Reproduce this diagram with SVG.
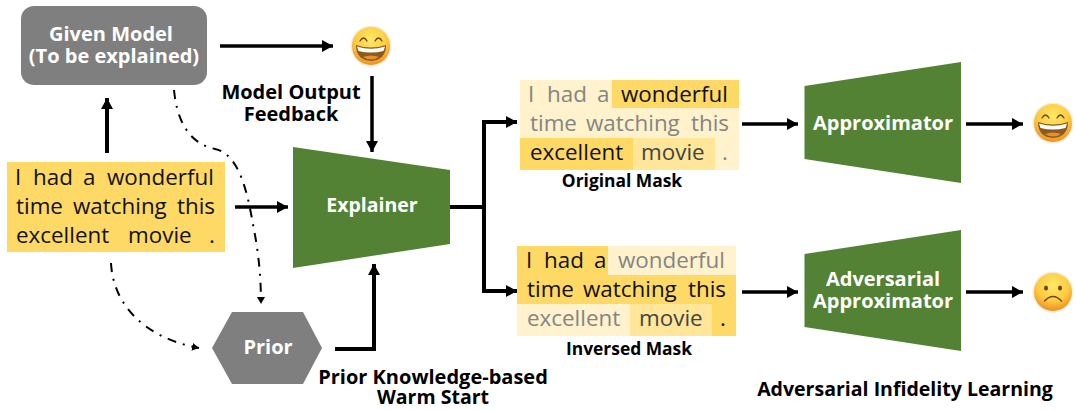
<svg xmlns="http://www.w3.org/2000/svg" width="1076" height="410" viewBox="0 0 1076 410">
<style>
text{font-family:"Open Sans","Noto Sans","DejaVu Sans",sans-serif}
.b{font-weight:700;fill:#000;font-size:20px;text-anchor:middle}
.w{font-weight:700;fill:#fff;font-size:20px;text-anchor:middle}
.s{font-weight:700;fill:#000;font-size:17.4px;text-anchor:middle}
.t{font-size:22.4px;fill:#111}
.g{font-size:22.4px;fill:#858585}
.d{font-size:22.4px;fill:#444}
.y{fill:#ffd966}.p{fill:#fff2cc}.m{fill:#ffe699}
.gr{fill:#548235}
.c{fill:none;stroke:#000;stroke-width:3.5}
.h{fill:none;stroke:#000;stroke-width:4}
.dd{fill:none;stroke:#000;stroke-width:2;stroke-dasharray:9 7 2 7}
.e{fill:none;stroke:#6b4214;stroke-width:1.3;stroke-linecap:round}
</style>
<defs>
<marker id="a" markerUnits="userSpaceOnUse" markerWidth="12" markerHeight="14" refX="11" refY="6" orient="auto"><path d="M0 0L11 6L0 12Z"/></marker>
<marker id="ds" markerUnits="userSpaceOnUse" markerWidth="8" markerHeight="10" refX="7" refY="4" orient="auto"><path d="M0 0L7 4L0 8Z"/></marker>
<radialGradient id="f" cx="50%" cy="32%" r="70%"><stop offset="0" stop-color="#ffe868"/><stop offset=".6" stop-color="#fdcb3f"/><stop offset="1" stop-color="#ee8a1c"/></radialGradient>
<g id="smile"><circle r="20.500" fill="#f3ece2"/><circle r="19" fill="url(#f)"/><path class="e" d="M-11-5Q-7.500-11-4-5M4-5Q7.500-11 11-5"/><path d="M-15-1Q0 4 15-1Q15 14 0 15Q-15 14-15-1Z" fill="#8a5a1e"/><path d="M-14 0.500Q0 5 14 0.500L12.500 5Q0 8-12.500 5Z" fill="#fff"/><path d="M-8 11Q0 8 8 11Q0 16-8 11Z" fill="#e8902f"/></g>
<g id="sad"><circle r="20.500" fill="#f3ece2"/><circle r="19" fill="url(#f)"/><ellipse cx="-7" cy="-4" rx="2" ry="2.600" fill="#6b4214"/><ellipse cx="7" cy="-4" rx="2" ry="2.600" fill="#6b4214"/><path class="e" d="M-8.500 9Q0 0 8.500 9"/></g>
</defs>
<g id="connectors">
<path class="c" marker-end="url(#a)" d="M220 46H333"/>
<path class="c" marker-end="url(#a)" d="M372 76V152"/>
<path class="h" marker-end="url(#a)" d="M107 153V98"/>
<path class="c" marker-end="url(#a)" d="M235 207H288"/>
<path class="h" marker-end="url(#a)" d="M335 349H374V264"/>
<path class="h" d="M450 207H484"/>
<path class="h" marker-end="url(#a)" d="M484 207V122H517"/>
<path class="h" marker-end="url(#a)" d="M484 207V291H517"/>
<path class="c" marker-end="url(#a)" d="M742 124H798"/>
<path class="c" marker-end="url(#a)" d="M742 292H798"/>
<path class="c" marker-end="url(#a)" d="M966 124H1023"/>
<path class="c" marker-end="url(#a)" d="M966 292H1023"/>
<path class="dd" marker-end="url(#ds)" d="M174 90C177 120 188 143 215 149C240 154 248 195 254 230C259 255 261 280 261 304"/>
<path class="dd" marker-end="url(#ds)" d="M111 263C113 305 145 338 199 348"/>
</g>
<g id="given-model"><rect x="21" y="6" width="186" height="79" rx="13" fill="#7f7f7f"/><text class="w" x="111" y="41">Given Model</text><text class="w" x="114" y="63">(To be explained)</text></g>
<g id="input-text"><rect x="7" y="162" width="218" height="90" class="y"/>
<text class="t" x="15" y="185">I</text><text class="t" x="33" y="185">had</text><text class="t" x="83" y="185">a</text><text class="t" x="107" y="185">wonderful</text>
<text class="t" x="16" y="214">time</text><text class="t" x="73" y="214">watching</text><text class="t" x="177" y="214">this</text>
<text class="t" x="16" y="243">excellent</text><text class="t" x="128" y="243">movie</text><text class="t" x="209" y="243">.</text></g>
<g id="emoji-output"><use href="#smile" x="371" y="46"/></g>
<text class="b" x="291" y="99">Model Output</text><text class="b" x="291" y="121">Feedback</text>
<g id="explainer"><path class="gr" d="M293 147L450 170V244L293 268Z"/><text class="w" x="372" y="212" style="font-size:19.500px">Explainer</text></g>
<g id="prior"><path d="M212 348L232 312H303L322 348L303 384H232Z" fill="#7f7f7f"/><text class="w" x="268" y="354">Prior</text></g>
<text class="b" x="433" y="384">Prior Knowledge-based</text><text class="b" x="433" y="404" style="font-size:19.500px">Warm Start</text>
<g id="original-mask">
<rect x="520" y="80" width="219" height="90" class="p"/><rect x="612" y="80" width="127" height="28" class="y"/><rect x="520" y="138" width="113" height="32" class="y"/><rect x="633" y="138" width="82" height="32" class="m"/>
<text class="g" x="528" y="102">I</text><text class="g" x="547" y="102">had</text><text class="g" x="597" y="102">a</text><text class="t" x="621" y="102">wonderful</text>
<text class="g" x="530" y="131">time</text><text class="g" x="586" y="131">watching</text><text class="g" x="691" y="131">this</text>
<text class="t" x="530" y="160">excellent</text><text class="d" x="641" y="160">movie</text><text class="g" x="722" y="160">.</text>
<text class="s" x="622" y="187">Original Mask</text></g>
<g id="inversed-mask">
<rect x="517" y="246" width="219" height="90" class="y"/><rect x="608" y="246" width="128" height="29" class="p"/><rect x="517" y="304" width="113" height="32" class="p"/><rect x="630" y="304" width="82" height="32" class="m"/>
<text class="t" x="526" y="268">I</text><text class="t" x="544" y="268">had</text><text class="t" x="594" y="268">a</text><text class="g" x="618" y="268">wonderful</text>
<text class="t" x="527" y="297">time</text><text class="t" x="583" y="297">watching</text><text class="t" x="688" y="297">this</text>
<text class="g" x="527" y="326">excellent</text><text class="d" x="639" y="326">movie</text><text class="t" x="720" y="326">.</text>
<text class="s" x="629" y="355">Inversed Mask</text></g>
<g id="approximator"><path class="gr" d="M804.500 86L961 62V183L804.500 159Z"/><text class="w" x="883" y="130">Approximator</text></g>
<g id="adversarial-approximator"><path class="gr" d="M804.500 254L961 230V351L804.500 327Z"/><text class="w" x="883" y="286">Adversarial</text><text class="w" x="883" y="308">Approximator</text></g>
<g id="emoji-happy"><use href="#smile" x="1053" y="123"/></g>
<g id="emoji-sad"><use href="#sad" x="1053" y="292"/></g>
<text class="b" x="905" y="396" style="font-size:19.550px">Adversarial Infidelity Learning</text>
</svg>
